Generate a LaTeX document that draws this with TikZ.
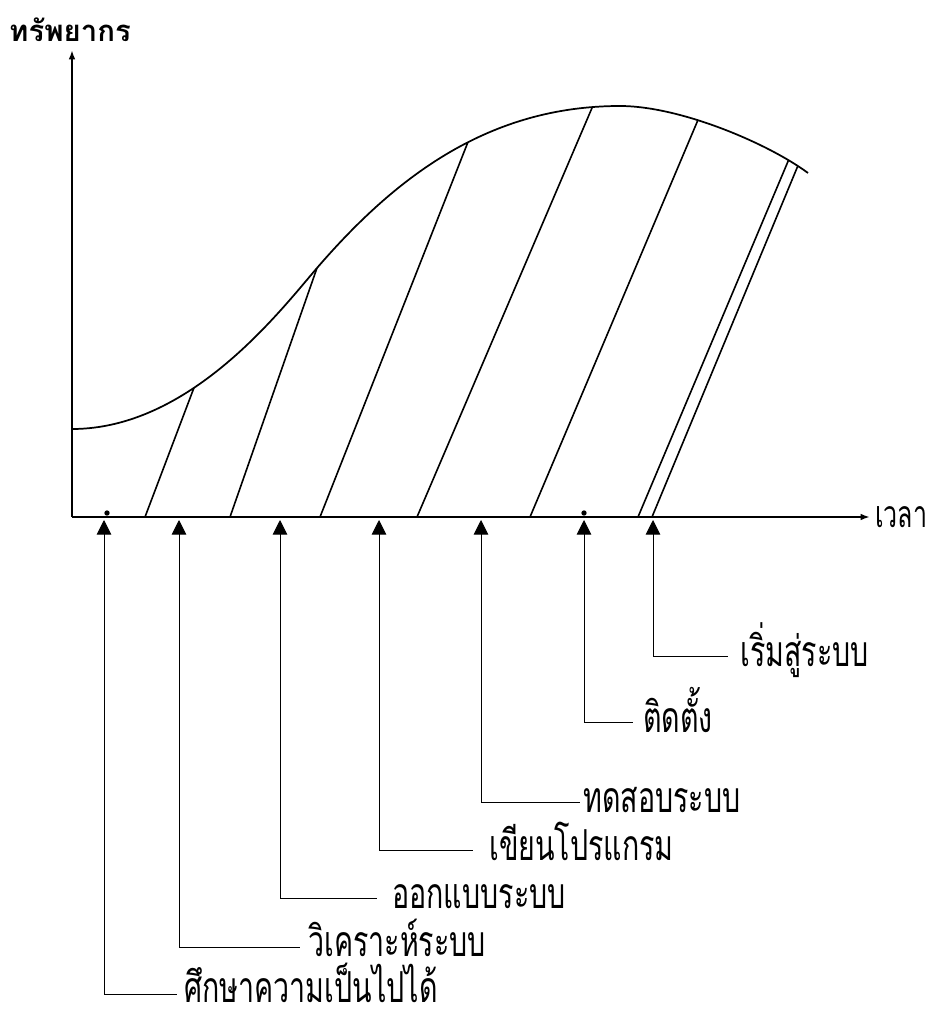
\documentclass[tikz,border=0pt]{standalone}
\usepackage{fontspec}
\newfontfamily\thaifont[Script=Thai,FakeStretch=0.67]{Loma}
\newfontfamily\thaititle[Script=Thai]{Loma}
\usetikzlibrary{arrows.meta,intersections,calc}
\begin{document}
\begin{tikzpicture}[x=0.75pt,y=-0.75pt,
  axis/.style={line width=1.5pt},
  curvestyle/.style={line width=1.3pt},
  slant/.style={line width=1.2pt},
  conn/.style={line width=0.7pt,{Triangle[length=11pt,width=11pt]}-},
  lab/.style={font=\thaifont\fontsize{32}{32}\selectfont, anchor=base west, inner sep=0pt, text depth=0pt},
  axtip/.style={-{Latex[length=7pt,width=5pt]}},
  dotstyle/.style={circle,fill=black,inner sep=0pt,minimum size=4pt}
]
\useasboundingbox (0,0) rectangle (932,1013);
% axes
\coordinate (O) at (72,517);
\coordinate (Xend) at (870,517);
\coordinate (Yend) at (72,50);
\draw[axis,axtip] (O) -- (Xend);
\draw[axis,axtip] (O) -- (Yend);
\node[inner sep=0pt,font=\thaititle\bfseries\fontsize{22}{22}\selectfont,anchor=base] (ylab) at (70,42) {ทรัพยากร};
\node[lab,font=\thaifont\fontsize{28}{28}\selectfont] (xlab) at (875,527) {เวลา};
% curve
\coordinate (c0) at (72,429);
\coordinate (c1) at (317,268);
\coordinate (c2) at (620,106);
\coordinate (c3) at (808,173);
\draw[curvestyle,name path=curve] (c0) .. controls (190,429) and (280,311) .. (c1)
  .. controls (397,175.2) and (490,106) .. (c2)
  .. controls (680,106) and (768,143.4) .. (c3);
% guide tops and bottoms
\coordinate (g1) at (192,393);
\coordinate (g2) at (317,268);
\coordinate (g3) at (470,137);
\coordinate (g4) at (592,108);
\coordinate (g5) at (698,120);
\coordinate (g6) at (789,159);
\coordinate (g7) at (798,165.5);
\coordinate (b1) at (145,517);
\coordinate (b2) at (230,517);
\coordinate (b3) at (320,517);
\coordinate (b4) at (417,517);
\coordinate (b5) at (530,517);
\coordinate (b6) at (638,517);
\coordinate (b7) at (652,517);
\foreach \i in {1,...,7} {
  \path[name path=s\i] (b\i) -- ($(b\i)!1.15!(g\i)$);
  \path[name intersections={of=curve and s\i, by={t\i}}];
  \draw[slant] (b\i) -- (t\i);
}
% dots
\node[dotstyle] (d1) at (107,513) {};
\node[dotstyle] (d2) at (584,513) {};
% arrow tips
\coordinate (a1) at (104,520);
\coordinate (a2) at (179,520);
\coordinate (a3) at (280,520);
\coordinate (a4) at (379,520);
\coordinate (a5) at (481,520);
\coordinate (a6) at (584,520);
\coordinate (a7) at (653,520);
% label line ends
\coordinate (e1) at (177,994);
\coordinate (e2) at (300,947);
\coordinate (e3) at (377,898);
\coordinate (e4) at (473,850);
\coordinate (e5) at (580,802);
\coordinate (e6) at (633,722);
\coordinate (e7) at (728,656);
\foreach \i in {1,...,7} \draw[conn] (a\i) |- (e\i);
% labels
\node[lab] (l1) at (184,1002) {ศึกษาความเป็นไปได้};
\node[lab] (l2) at (308,956) {วิเคราะห์ระบบ};
\node[lab] (l3) at (392,908) {ออกแบบระบบ};
\node[lab] (l4) at (489,860) {เขียนโปรแกรม};
\node[lab] (l5) at (583,812) {ทดสอบระบบ};
\node[lab] (l6) at (643,732) {ติดตั้ง};
\node[lab] (l7) at (740,666) {เริ่มสู่ระบบ};
\end{tikzpicture}
\end{document}
